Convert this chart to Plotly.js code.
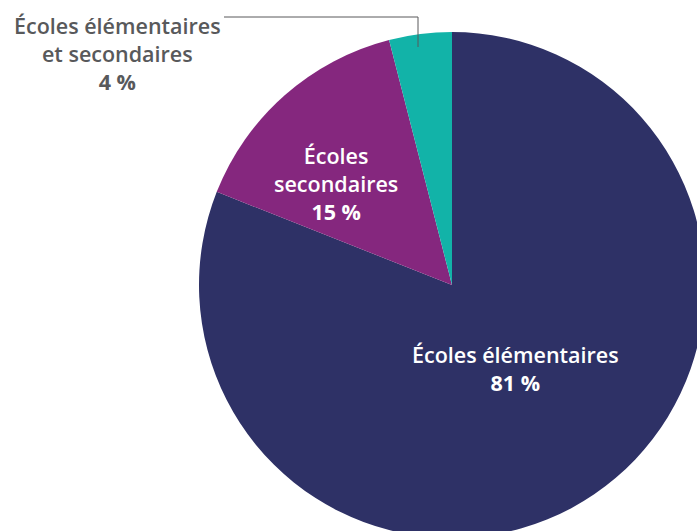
<!DOCTYPE html>
<html>
<head>
<meta charset="utf-8">
<script src="https://cdn.plot.ly/plotly-3.0.1.min.js"></script>
<style>
html,body{margin:0;padding:0;overflow:hidden;background:#fff;width:697px;height:531px;}
#chart{width:705px;height:538px;}
</style>
</head>
<body>
<div id="chart"></div>
<script>
const labels = ['Écoles élémentaires', 'Écoles secondaires', 'Écoles élémentaires et secondaires'];
const values = [81, 15, 4];
const colors = ['#2e3166', '#85277e', '#12b3a8'];
const labelLines = [['Écoles élémentaires'], ['Écoles', 'secondaires'], ['Écoles élémentaires', 'et secondaires']];
const pctText = values.map(v => v + '\u00a0%');

// label block centres (window px)
const labelPos = [
  {x: 515, y: 368, color: '#ffffff'},
  {x: 336, y: 183.5, color: '#ffffff'},
  {x: 117, y: 54, color: '#58595b'}
];

const W = 705, H = 538, L = 199, T = 32, PW = 506, PH = 506;
const px = x => (x - L) / PW;
const py = y => 1 - (y - T) / PH;

const annotations = labelLines.map((lines, i) => {
  const p = labelPos[i];
  return {xref: 'paper', yref: 'paper', x: px(p.x), y: py(p.y),
    text: lines.join('<br>') + '<br><b>' + pctText[i] + '</b>',
    showarrow: false, xanchor: 'center', yanchor: 'middle', align: 'center',
    font: {family: 'Open Sans', size: 21.5, color: p.color, weight: 600}};
});

const data = [{
  type: 'pie',
  labels: labels,
  values: values,
  sort: false,
  direction: 'clockwise',
  rotation: 0,
  marker: {colors: colors, line: {width: 0}},
  textinfo: 'none',
  hoverinfo: 'label+percent',
  showlegend: false
}];

const layout = {
  width: W, height: H,
  margin: {l: L, t: T, r: W - L - PW, b: H - T - PH, pad: 0},
  paper_bgcolor: '#ffffff',
  showlegend: false,
  annotations: annotations,
  shapes: [{
    type: 'path', xref: 'paper', yref: 'paper',
    path: `M ${px(224)} ${py(17)} L ${px(418)} ${py(17)} L ${px(418)} ${py(47)}`,
    line: {color: '#58595b', width: 1}
  }]
};

Plotly.newPlot('chart', data, layout, {displayModeBar: false, staticPlot: true});
</script>
</body>
</html>
